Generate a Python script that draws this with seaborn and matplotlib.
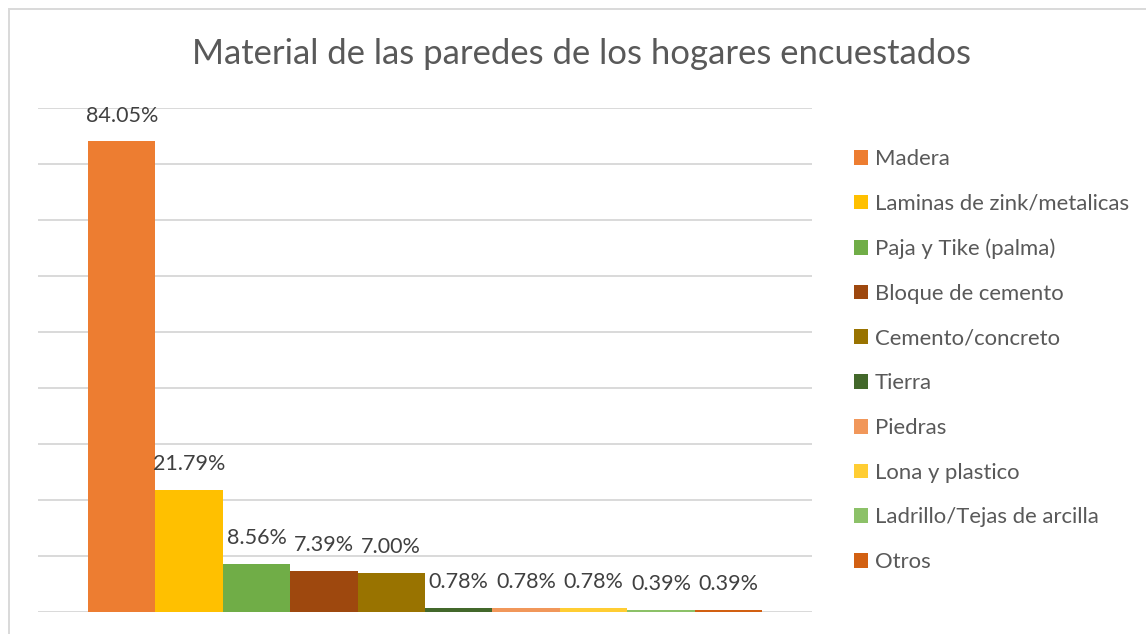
import matplotlib
matplotlib.use("Agg")
import matplotlib.pyplot as plt
import seaborn as sns
import pandas as pd
from matplotlib.patches import Rectangle, Patch

materials = ["Madera", "Laminas de zink/metalicas", "Paja y Tike (palma)",
             "Bloque de cemento", "Cemento/concreto", "Tierra", "Piedras",
             "Lona y plastico", "Ladrillo/Tejas de arcilla", "Otros"]
values = [84.05, 21.79, 8.56, 7.39, 7.00, 0.78, 0.78, 0.78, 0.39, 0.39]
colors = ["#ED7D31", "#FFC000", "#70AD47", "#9E480E", "#997300",
          "#43682B", "#F1975A", "#FFCD33", "#8CC168", "#D26012"]
title = "Material de las paredes de los hogares encuestados"

sns.set_theme(style="white")
plt.rcParams['font.family'] = ['Lato', 'DejaVu Sans']

W, H = 1146, 634
fig = plt.figure(figsize=(W / 100, H / 100), dpi=100)
ax = fig.add_axes([38 / W, (H - 612) / H, (812 - 38) / W, (612 - 108) / H])

df = pd.DataFrame({"material": materials, "value": values})
sns.barplot(data=df, x="material", y="value", hue="material",
            palette=colors, width=1.0, dodge=False, legend=False, ax=ax,
            saturation=1, linewidth=0, edgecolor="none")

ax.set_ylim(0, 90)
unit = 674 / 10
margin = 50 / unit
ax.set_xlim(-0.5 - margin, 9.5 + margin)
ax.set_yticks(range(0, 91, 10))
ax.yaxis.grid(True, color="#D9D9D9", lw=1.4)
ax.set_axisbelow(True)
ax.set_yticklabels([])
ax.set_xticks([])
ax.set_xlabel("")
ax.set_ylabel("")
for s in ax.spines.values():
    s.set_visible(False)
ax.tick_params(left=False, bottom=False)

for i, v in enumerate(values):
    ax.annotate(f"{v:.2f}%", (i, v), xytext=(0, 18.5), textcoords="offset points",
                ha="center", va="center", fontsize=15.5, color="#404040")

fig.text(582 / W, 1 - 54 / H, title, ha="center", va="center",
         fontsize=24.9, color="#595959")

handles = [Patch(facecolor=c, edgecolor="none") for c in colors]
leg = fig.legend(handles, materials, loc="upper left",
                 bbox_to_anchor=(854 / W, 1 - 149 / H), frameon=False,
                 fontsize=15.9, labelcolor="#595959", handlelength=0.65,
                 handleheight=0.65, handletextpad=0.3, labelspacing=1.12,
                 borderaxespad=0, borderpad=0)

fig.patches.append(Rectangle((8.5 / W, -0.1), 2, 1.1 - 9.5 / H,
                             transform=fig.transFigure, fill=False,
                             edgecolor="#D9D9D9", lw=1.4))

fig.savefig("out.png", dpi=100)
